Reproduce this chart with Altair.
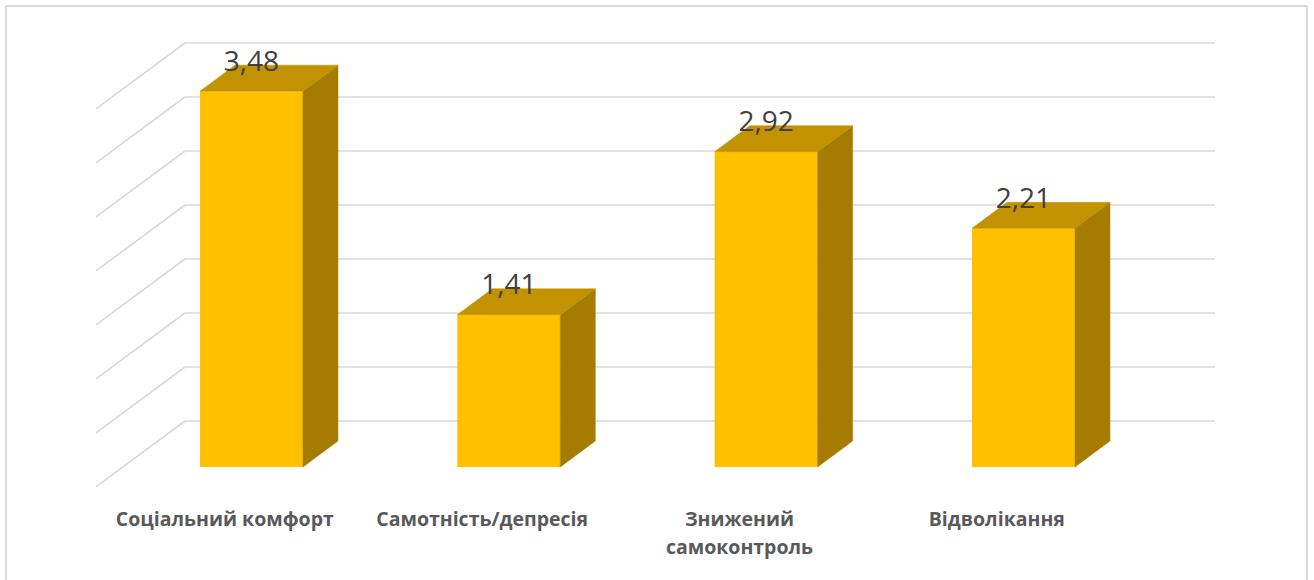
import altair as alt
import pandas as pd

# ---------------- data ----------------
categories = ["Соціальний комфорт", "Самотність/депресія", "Знижений самоконтроль", "Відволікання"]
category_labels = ["Соціальний комфорт", "Самотність/депресія", "Знижений\nсамоконтроль", "Відволікання"]
values = [3.48, 1.41, 2.92, 2.21]
value_labels = ["3,48", "1,41", "2,92", "2,21"]
grid_ticks = [0.0, 0.5, 1.0, 1.5, 2.0, 2.5, 3.0, 3.5]

# ---------------- layout (x in category-index units, y in value units) ----------------
W, H = 1314, 580
X_DOMAIN = [-0.9773, 4.1289]
Y_DOMAIN = [-1.0463, 4.3241]
HALF = 0.2001          # half bar width
DX, DY = 0.136, 0.2407  # bar depth offset
WALL_FRONT_X, WALL_FRONT_DV = -0.6043, -0.185
WALL_BACK_X, WALL_BACK_DV = -0.2584, 0.426
GRID_RIGHT = 3.744
LABEL_DX = -0.1037
LABEL_V = -0.546
VALUE_DV = 0.19

FRONT = "#FFC000"
TOP = "#C29200"
SIDE = "#A67C00"
GRID = "#D9D9D9"

xs = alt.Scale(domain=X_DOMAIN, nice=False, zero=False)
ys = alt.Scale(domain=Y_DOMAIN, nice=False, zero=False)
X = lambda f: alt.X(f, type="quantitative", scale=xs, axis=None)
Y = lambda f: alt.Y(f, type="quantitative", scale=ys, axis=None)

idx = list(range(len(categories)))

bars = pd.DataFrame({
    "cat": categories,
    "x0": [i - HALF for i in idx],
    "x1": [i + HALF for i in idx],
    "v": values,
})

side_rows, top_rows = [], []
for i, c, v in zip(idx, categories, values):
    side_rows.append({"cat": c, "x": i + HALF, "yt": v, "yb": 0.0})
    side_rows.append({"cat": c, "x": i + HALF + DX, "yt": v + DY, "yb": DY})
    top_rows.append({"cat": c, "y": v, "xa": i - HALF, "xb": i + HALF})
    top_rows.append({"cat": c, "y": v + DY, "xa": i - HALF + DX, "xb": i + HALF + DX})
side = pd.DataFrame(side_rows)
top = pd.DataFrame(top_rows)

back_grid = pd.DataFrame({
    "x0": [WALL_BACK_X] * len(grid_ticks),
    "x1": [GRID_RIGHT] * len(grid_ticks),
    "v": [t + WALL_BACK_DV for t in grid_ticks],
})
side_grid = pd.DataFrame({
    "x0": [WALL_FRONT_X] * len(grid_ticks),
    "v0": [t + WALL_FRONT_DV for t in grid_ticks],
    "x1": [WALL_BACK_X] * len(grid_ticks),
    "v1": [t + WALL_BACK_DV for t in grid_ticks],
})

labels = pd.DataFrame({
    "x": [i + LABEL_DX for i in idx],
    "v": [LABEL_V] * len(idx),
    "t": category_labels,
})
vlabels = pd.DataFrame({
    "x": idx,
    "v": [v + VALUE_DV for v in values],
    "t": value_labels,
})

# frame (left, top, right edges of the chart border)
FX0, FX1, FTOP = -0.954, 4.1017, 4.2685
frame = pd.DataFrame({
    "x0": [FX0, FX0, FX1],
    "x1": [FX0, FX1, FX1],
    "v0": [Y_DOMAIN[0], FTOP, Y_DOMAIN[0]],
    "v1": [FTOP, FTOP, FTOP],
})

frame_l = alt.Chart(frame).mark_rule(color=GRID, strokeWidth=2).encode(
    x=X("x0"), x2="x1", y=Y("v0"), y2="v1")

back_l = alt.Chart(back_grid).mark_rule(color=GRID, strokeWidth=1.6).encode(
    x=X("x0"), x2="x1", y=Y("v"))
side_l = alt.Chart(side_grid).mark_rule(color=GRID, strokeWidth=1.6).encode(
    x=X("x0"), x2="x1", y=Y("v0"), y2="v1")

front_l = alt.Chart(bars).mark_rect(color=FRONT).encode(
    x=X("x0"), x2="x1", y=Y("v"), y2=alt.datum(0))
side_f = alt.Chart(side).mark_area(color=SIDE, stroke=SIDE, strokeWidth=0.5).encode(
    x=X("x"), y=Y("yt"), y2="yb", detail="cat:N")
top_f = alt.Chart(top).mark_area(color=TOP, stroke=TOP, strokeWidth=0.5, orient="horizontal").encode(
    y=Y("y"), x=X("xa"), x2="xb", detail="cat:N")

cat_text = alt.Chart(labels).mark_text(
    font="Open Sans", fontSize=19.5, fontWeight="bold", color="#595959",
    align="center", baseline="alphabetic", lineBreak="\n", lineHeight=28,
).encode(x=X("x"), y=Y("v"), text="t:N")

val_text = alt.Chart(vlabels).mark_text(
    font="Open Sans", fontSize=28, color="#404040",
    align="center", baseline="alphabetic",
).encode(x=X("x"), y=Y("v"), text="t:N")

chart = alt.layer(
    frame_l, back_l, side_l, front_l, side_f, top_f, cat_text, val_text
).properties(
    width=W, height=H, padding=0, autosize=alt.AutoSizeParams(type="none"),
    background="white",
).configure_view(stroke=None)

chart.save("out.html", embed_options={"renderer": "svg", "actions": False})
